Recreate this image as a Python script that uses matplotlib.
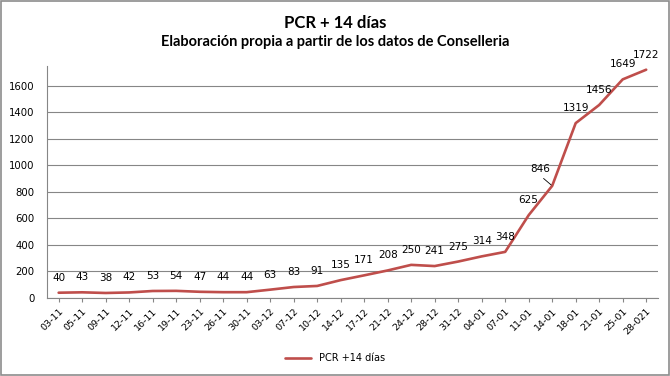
import matplotlib
matplotlib.use("Agg")
import matplotlib.pyplot as plt
from matplotlib.patches import Rectangle

dates = ["03-11", "05-11", "09-11", "12-11", "16-11", "19-11", "23-11", "26-11", "30-11",
         "03-12", "07-12", "10-12", "14-12", "17-12", "21-12", "24-12", "28-12", "31-12",
         "04-01", "07-01", "11-01", "14-01", "18-01", "21-01", "25-01", "28-021"]
values = [40, 43, 38, 42, 53, 54, 47, 44, 44, 63, 83, 91, 135, 171, 208, 250, 241, 275,
          314, 348, 625, 846, 1319, 1456, 1649, 1722]
yticks = [0, 200, 400, 600, 800, 1000, 1200, 1400, 1600]
series_name = "PCR +14 días"

red = "#BF4E4B"
fig = plt.figure(figsize=(6.7, 3.76), dpi=100)
ax = fig.add_axes([0.070, 0.2074, 0.912, 0.6171])
x = list(range(len(values)))
ax.plot(x, values, color=red, linewidth=1.9, label=series_name, solid_capstyle="round")
ax.set_xlim(-0.5, len(values) - 0.5)
ax.set_ylim(0, 1750)
ax.set_yticks(yticks)
ax.yaxis.grid(True, color="#868686", linewidth=0.8)
ax.set_axisbelow(True)
for s in ["top", "right"]:
    ax.spines[s].set_visible(False)
for s in ["left", "bottom"]:
    ax.spines[s].set_color("#868686")
    ax.spines[s].set_linewidth(0.8)
ax.set_xticks(x)
ax.set_xticklabels(dates, rotation=45, ha="right", rotation_mode="anchor", fontsize=6.8)
ax.tick_params(axis="y", labelsize=7.3, length=0, pad=9)
ax.tick_params(axis="x", length=3, color="#868686", pad=3)

for i, v in enumerate(values):
    if v == 846:
        ax.annotate(str(v), (i, v), xytext=(-12, 17), textcoords="offset pixels",
                    ha="center", va="center", fontsize=7.5,
                    arrowprops=dict(arrowstyle="-", color="black", lw=0.6, shrinkA=2,
                                    shrinkB=1, relpos=(0.4, 0.0)))
    else:
        ax.annotate(str(v), (i, v), xytext=(0, 15), textcoords="offset pixels",
                    ha="center", va="center", fontsize=7.5)

fig.text(0.5, 0.939, "PCR + 14 días", ha="center", va="center", fontsize=12,
         fontweight="bold", family="Lato")
fig.text(0.5, 0.888, "Elaboración propia a partir de los datos de Conselleria", ha="center",
         va="center", fontsize=10.5, fontweight="bold", family="Lato")

leg = fig.legend(loc="center", bbox_to_anchor=(0.5, 0.048), frameon=False, fontsize=7,
                 handlelength=2.7)

fig.patches.append(Rectangle((0.001, 0.002), 0.997, 0.995, transform=fig.transFigure,
                             fill=False, edgecolor="#8c8c8c", linewidth=1.2))
fig.savefig("out.png", dpi=100)
